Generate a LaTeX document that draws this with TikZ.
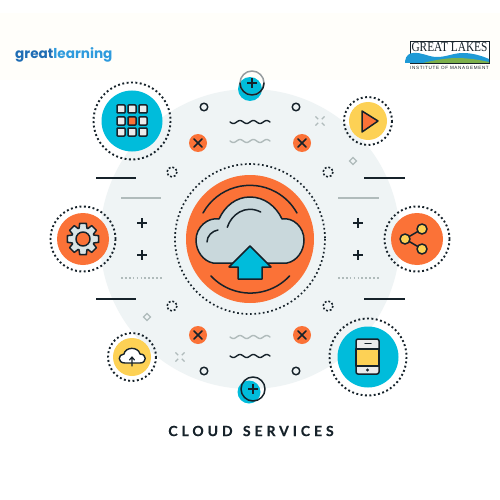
\documentclass[tikz,border=0pt]{standalone}
\usepackage{fontspec}
\newfontfamily\brandfont{Poppins}
\newfontfamily\titlefont[LetterSpace=28,BoldFeatures={FakeBold=0.5}]{Lato}
\newfontfamily\logofont{Liberation Serif}
\newfontfamily\subfont[LetterSpace=14]{Liberation Sans}
\definecolor{cyanc}{HTML}{00BCDB}
\definecolor{orangec}{HTML}{FB7237}
\definecolor{yellowc}{HTML}{FDD155}
\definecolor{palec}{HTML}{EFF4F5}
\definecolor{cloudc}{HTML}{C9D8DC}
\definecolor{inkc}{HTML}{16222A}
\definecolor{greyc}{HTML}{B0BBBB}
\definecolor{headc}{HTML}{FFFEFA}
\definecolor{wavec}{HTML}{1E9AD6}
\definecolor{hillc}{HTML}{7CB04A}
\tikzset{
	ink/.style={draw=inkc,line width=1.5,line join=round,line cap=round},
	dotring/.style={draw=inkc,line width=1.9,dash pattern=on 1.9 off 2.5},
	burst/.style={draw=inkc,line width=1.6,dash pattern=on 1.9 off 2},
	rule/.style={line width=1.4},
	softline/.style={draw=greyc,line width=1.4},
}
\begin{document}
\begin{tikzpicture}[x=1pt,y=-1pt]
	\useasboundingbox (0,0) rectangle (500,500);
	\fill[white] (0,0) rectangle (500,500);
	\fill[headc] (0,13) rectangle (500,80);
	\fill[palec] (250,239) circle (150);

	\node[font=\brandfont\bfseries\fontsize{13.6}{14}\selectfont,inner sep=0,anchor=west] (lblbrand) at (15,55) {\textcolor[HTML]{1F6DB4}{great}\textcolor[HTML]{2E9BDD}{learning}};
	\draw[draw=inkc,line width=.6,fill=white] (410,41) rectangle (489,63);
	\fill[wavec] (405,63) -- (405,61) .. controls (406,55) and (410,53) .. (413,53) .. controls (422,52) and (428,57) .. (437,57) .. controls (447,57) and (453,53) .. (463,53) .. controls (473,53) and (482,56) .. (489,59) -- (489,63) -- cycle;
	\fill[hillc] (423,63) .. controls (435,60) and (447,58) .. (457,58) .. controls (468,58) and (480,60) .. (489,62) -- (489,63) -- cycle;
	\node[font=\logofont\fontsize{13.5}{14}\selectfont,inner sep=0,xscale=.84,text=inkc] (lbllogo) at (449.5,47.5) {GREAT LAKES};
	\node[font=\subfont\fontsize{4.6}{5}\selectfont,inner sep=0,text=inkc] (lblinst) at (449.5,68) {INSTITUTE OF MANAGEMENT};
	\node[font=\titlefont\bfseries\fontsize{14}{14}\selectfont,inner sep=0,text=inkc] (lbltitle) at (251,431) {CLOUD\hspace{3pt} SERVICES};

	\foreach \x/\y/\r/\fillc in {132/121/30.5/cyanc,368/357/30.5/cyanc,83/239/26/orangec,417/239/26/orangec,368/121/19/yellowc,132/357/19/yellowc}
		\fill[\fillc] (\x,\y) circle (\r);
	\foreach \x/\y/\r in {132/121/38.5,368/357/38.5,83/239/32.5,417/239/32.5,368/121/24,132/357/24}
		\draw[dotring] (\x,\y) circle (\r);

	\foreach \x/\y in {121/109,132/109,143/109,121/121,143/121,121/132,132/132,143/132}
		\draw[ink,fill=white!92!black,rounded corners=.8] (\x-4,\y-4) rectangle (\x+4,\y+4);
	\draw[ink,fill=orangec,rounded corners=.8] (128,117) rectangle (136,125);

	\draw[ink,fill=orangec] (362,111) -- (378,121) -- (362,132) -- cycle;

	\begin{scope}[shift={(83,239)}]
		\draw[ink,fill=cloudc!70!white] (-12:16) \foreach \a in {0,45,...,315} {-- (\a-12:16) -- (\a+12:16) -- (\a+20:11.5) -- (\a+25:11.5)} -- cycle;
		\draw[ink,fill=orangec] (0,0) circle (7);
	\end{scope}

	\draw[ink] (422,229) -- (405,239) -- (422,249);
	\foreach \x/\y in {422/229,405/239,422/249}
		\draw[ink,fill=yellowc] (\x,\y) circle (5);

	\draw[ink,fill=white,line width=1.4] (125,363) .. controls (117,363) and (118,354) .. (124,354) .. controls (125,347) and (138,346) .. (140,354) .. controls (147,354) and (147,363) .. (140,363) -- cycle;
	\draw[ink,line width=1.2] (132,366) -- (132,357) (129.5,360) -- (132,357) -- (134.5,360);

	\draw[ink,fill=white!92!black,rounded corners=2] (356,339) rectangle (379,374);
	\draw[ink,fill=yellowc] (356,349) rectangle (379,366);
	\draw[ink] (365,343.5) -- (371,343.5);
	\fill[inkc] (367.5,370) circle (1.6);

	\fill[cyanc] (250,89) circle (12);
	\fill[cyanc] (249,392) circle (11.5);
	\draw[ink,draw=inkc!45] (252,83) circle (12);
	\draw[ink] (240,83) arc (180:0:12);
	\draw[ink] (253,389) circle (12);
	\foreach \x/\y in {252/83,253/389,142/223,142/255,358/223,358/255}
		\draw[ink,line cap=butt] (\x-5,\y) -- (\x+5,\y) (\x,\y-5) -- (\x,\y+5);

	\foreach \x/\y in {204/107,296/107,204/371,296/371}
		\draw[ink] (\x,\y) circle (3.8);
	\foreach \x/\y in {198/143,302/143,198/335,302/335} {
		\fill[orangec] (\x,\y) circle (9);
		\draw[ink] (\x-4,\y-4) -- (\x+4,\y+4) (\x-4,\y+4) -- (\x+4,\y-4);
	}
	\foreach \y/\c in {122/inkc,141/greyc,337/greyc,356/inkc}
		\draw[draw=\c,line width=1.4,line cap=round] plot[domain=230:270,samples=49,smooth] (\x,{\y+1.5*sin(27*(\x-230))});
	\foreach \x/\y in {172/172,328/172,172/306,328/306}
		\draw[burst] (\x,\y) circle (5);
	\foreach \x/\y in {320/121,180/357}
		\foreach \a in {45,135,225,315}
			\draw[draw=greyc,line width=1.1] (\x,\y) ++(\a:2.5) -- ++(\a:4);
	\foreach \x/\y in {353/161,147/317}
		\draw[draw=greyc,line width=1.1] (\x-3.5,\y) -- (\x,\y-3.5) -- (\x+3.5,\y) -- (\x,\y+3.5) -- cycle;

	\foreach \a/\b/\y in {96/136/178,364/405/178,96/136/299,364/405/299}
		\draw[draw=inkc,rule] (\a,\y) -- (\b,\y);
	\foreach \a/\b in {121/161,338/379}
		\draw[softline] (\a,198) -- (\b,198);
	\foreach \a/\b in {121/162,338/380}
		\draw[draw=greyc,line width=1.7,dash pattern=on 1.7 off 2.2] (\a,278) -- (\b,278);

	\draw[draw=inkc,line width=1.7,dash pattern=on 1.7 off 2.6] (250,239) circle (75);
	\fill[orangec] (250,239) circle (64);
	\draw[ink] (203,213) arc (-151:-29:53.7);
	\draw[ink] (211,276) arc (137:43:53.7);
	\draw[ink,fill=cloudc] (213,263) .. controls (203,261) and (196,251) .. (196,240) .. controls (196,227) and (208,217) .. (219,219) .. controls (225,206) and (236,197) .. (250,197) .. controls (264,197) and (276,206) .. (282,219) .. controls (293,217) and (304,227) .. (304,240) .. controls (304,251) and (297,261) .. (287,263) -- cycle;
	\draw[ink] (227.3,227.3) .. controls (231,215) and (245,204) .. (260.7,212);
	\draw[ink] (207,242) .. controls (207,236) and (212,231) .. (218,230);
	\draw[ink,fill=cyanc] (250,246) -- (271,267) -- (262,267) -- (262,279) -- (238,279) -- (238,267) -- (229,267) -- cycle;
\end{tikzpicture}
\end{document}
